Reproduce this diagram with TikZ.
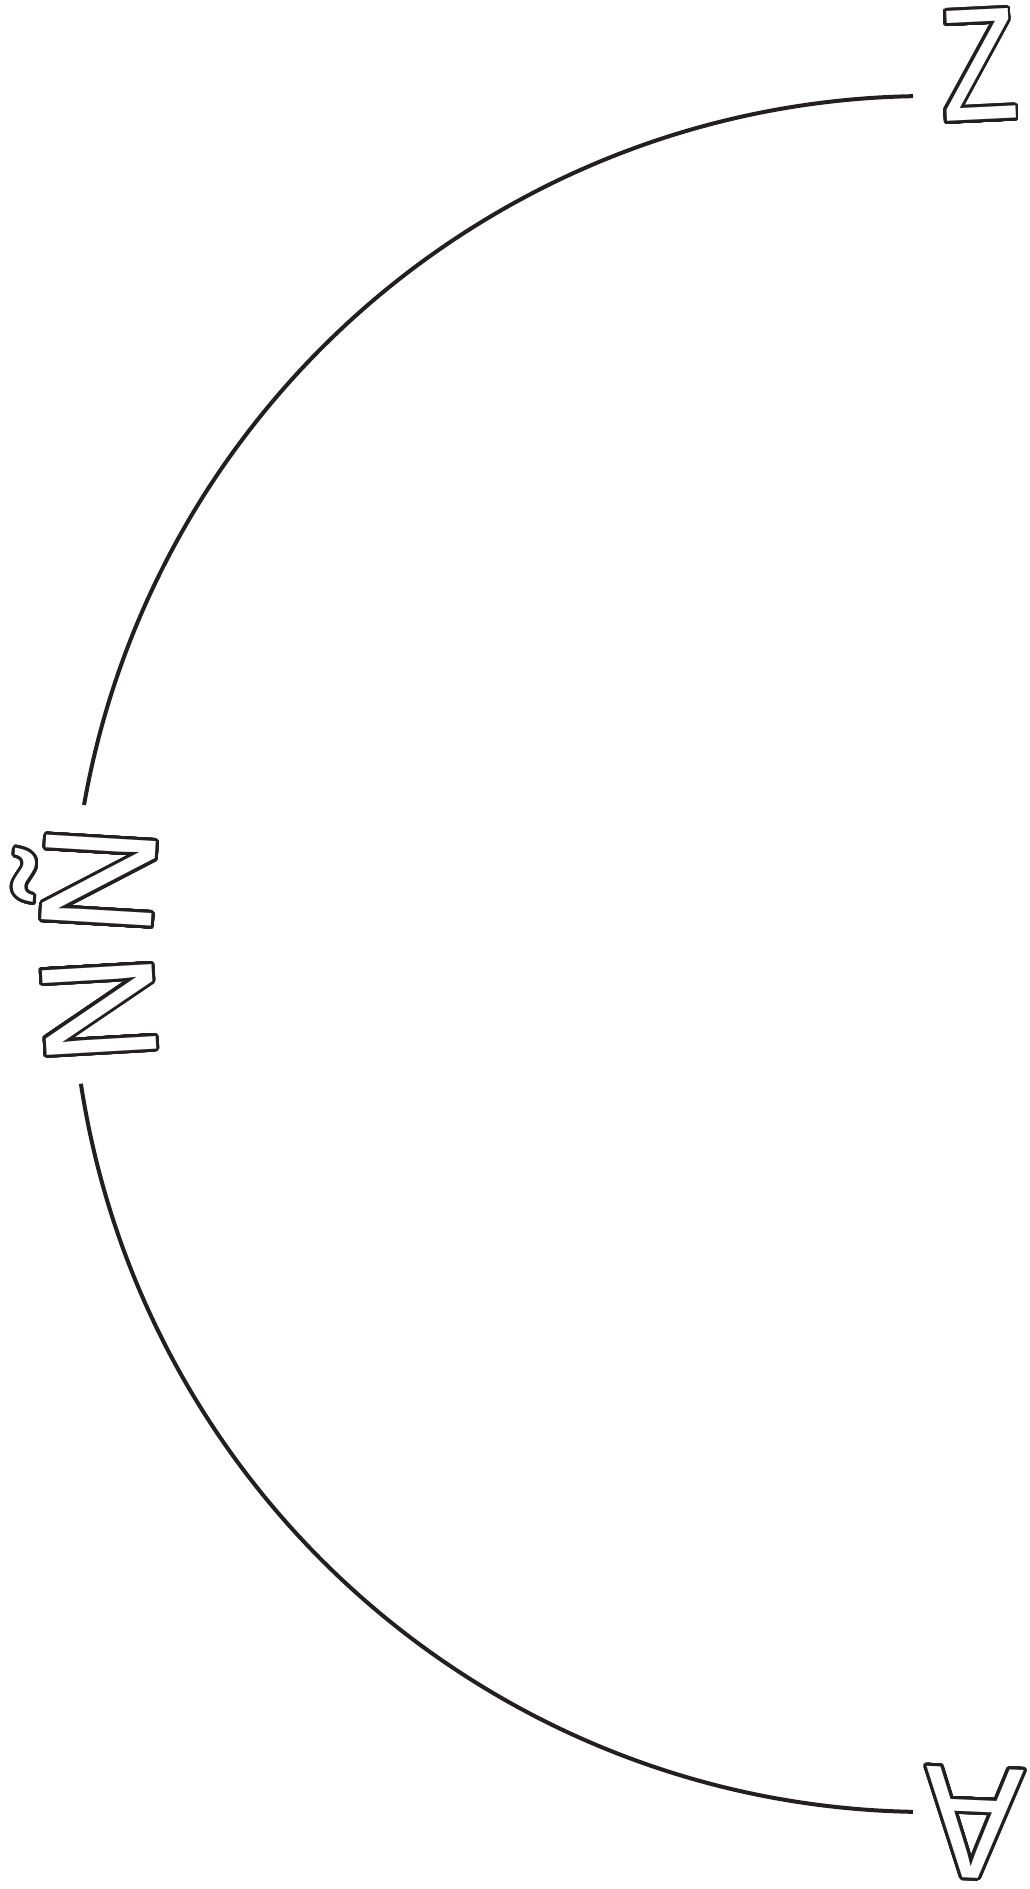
\documentclass[tikz,border=0pt]{standalone}
\usepackage{fontspec}
\usepackage{xcolor}
\usepackage{graphicx}
\usepackage{contour}
\newfontfamily\letterfont{Liberation Sans}
\definecolor{ink}{RGB}{35,31,32}
\contourlength{1.45pt}
\contournumber{48}
\newcommand{\hollow}[2][1]{\textcolor{white}{\contour{ink}{\scalebox{#1}[1]{#2}}}}

\begin{document}
\begin{tikzpicture}[x=0.5pt,y=-0.5pt,
  rim/.style={draw=ink, line width=2pt},
  letter/.style={inner sep=0pt, anchor=base, font=\letterfont\fontsize{79.8}{90}\selectfont}]
\useasboundingbox (0,0) rectangle (1029,1889);
% half ring from Z down to A, open where the middle letters sit
\coordinate (hub) at (929,954);
\draw[rim] (hub) ++(268.93:858) arc[start angle=268.93, end angle=190.0, radius=858];
\draw[rim] (hub) ++(171.3:858) arc[start angle=171.3, end angle=91.07, radius=858];
\node[letter, rotate=2.8] (zed) at (981.5,120) {\hollow[0.79]{Z}};
\node[letter, rotate=86.6] (enye) at (154,884) {\hollow[0.95]{Ñ}};
\node[letter, rotate=93.3] (en) at (154,1006.5) {\hollow[0.95]{N}};
\node[letter, rotate=177.5] (ay) at (975.5,1768) {\hollow[0.92]{A}};
\end{tikzpicture}
\end{document}
